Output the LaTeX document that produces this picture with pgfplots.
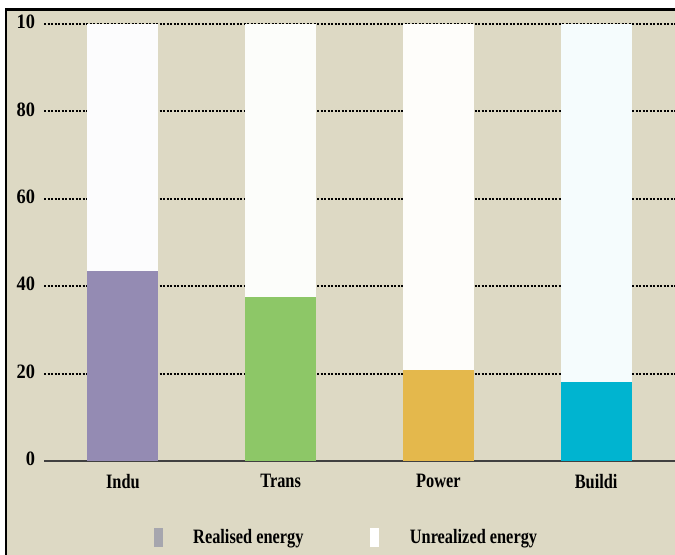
\documentclass[border=0pt]{standalone}
\usepackage{pgfplots}
\pgfplotsset{compat=1.18}
\usepackage{fontspec}
\setmainfont{Liberation Serif}
\newfontfamily\cf[FakeStretch=0.8]{Liberation Serif}
\newfontfamily\cn[FakeStretch=0.9]{Liberation Serif}
\definecolor{bgc}{RGB}{221,217,196}
\definecolor{cpur}{RGB}{148,139,179}
\definecolor{cgrn}{RGB}{141,199,103}
\definecolor{corg}{RGB}{228,184,76}
\definecolor{ccyn}{RGB}{0,180,208}
\definecolor{cleg}{RGB}{166,166,174}
\begin{document}
\begin{tikzpicture}[x=1bp,y=1bp]
\useasboundingbox (0,0) rectangle (675,555);
\fill[white] (0,0) rectangle (675,555);
\fill[bgc] (6,0) rectangle (675,545.5);
\draw[line width=2.5bp] (6,-2) -- (6,545.5) -- (677,545.5);
\begin{axis}[
  at={(44bp,94bp)}, anchor=south west,
  scale only axis, width=631bp, height=437bp,
  xmin=-0.5, xmax=3.5, ymin=0, ymax=100,
  ybar, bar width=71bp, bar shift=0pt,
  axis x line*=bottom, axis y line*=left,
  y axis line style={draw=none},
  x axis line style={draw=black!75, line width=1.5bp},
  major tick length=0pt,
  ytick={0,20,40,60,80,100},
  yticklabels={0,20,40,60,80,10},
  xtick={0,1,2,3},
  xticklabels={Indu,Trans,Power,Buildi},
  ymajorgrids,
  grid style={black, line width=2bp, dash pattern=on 2bp off 1.5bp},
  yticklabel style={font=\cn\fontsize{20.5}{20}\selectfont\bfseries, xshift=-5.5bp, yshift=2bp},
  xticklabel style={font=\cf\fontsize{20.5}{20}\selectfont\bfseries, yshift=-10bp},
  legend columns=2,
  legend style={at={(0.169,-0.174)}, anchor=west, draw=none, fill=none,
    font=\cf\fontsize{20.5}{20}\selectfont\bfseries,
    nodes={inner sep=0pt},
    /tikz/every odd column/.append style={column sep=31bp},
    /tikz/every even column/.append style={column sep=67bp}},
]
\addlegendimage{legend image code/.code={\fill[cleg] (0bp,-9bp) rectangle (8bp,9bp);}}
\addlegendentry{Realised energy}
\addlegendimage{legend image code/.code={\fill[white] (0bp,-9bp) rectangle (8bp,9bp);}}
\addlegendentry{Unrealized energy}
% unrealised potential (full bar background)
\addplot[fill=cpur!3!white, draw=none, forget plot] coordinates {(0,100)};
\addplot[fill=cgrn!3!white, draw=none, forget plot] coordinates {(1,100)};
\addplot[fill=corg!3!white, draw=none, forget plot] coordinates {(2,100)};
\addplot[fill=ccyn!4!white, draw=none, forget plot] coordinates {(3,100)};
% realised part
\addplot[fill=cpur, draw=none, forget plot] coordinates {(0,43.5)};
\addplot[fill=cgrn, draw=none, forget plot] coordinates {(1,37.6)};
\addplot[fill=corg, draw=none, forget plot] coordinates {(2,20.9)};
\addplot[fill=ccyn, draw=none, forget plot] coordinates {(3,18.0)};
\end{axis}
\end{tikzpicture}
\end{document}
